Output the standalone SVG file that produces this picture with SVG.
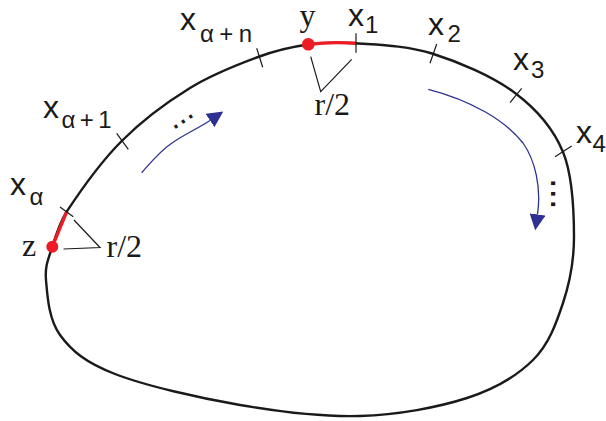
<svg xmlns="http://www.w3.org/2000/svg" width="606" height="421" viewBox="0 0 606 421">
<style>
.curve{fill:none;stroke:#1a1a1a;stroke-width:2.4}
.red{fill:none;stroke:#ed1c24;stroke-width:3.4}
.dot{fill:#ed1c24}
.tick{fill:none;stroke:#1a1a1a;stroke-width:1.2}
.flow{fill:none;stroke:#2e3192;stroke-width:1.3}
.sans{font-family:"Liberation Sans",Arial,sans-serif;fill:#1a1a1a}
.serif{font-family:"Liberation Serif","Times New Roman",serif;font-size:32px;fill:#1a1a1a}
.main{font-size:32px}
.sub{font-size:24px}
</style>
<defs>
<marker id="ah" viewBox="0 0 16 16" markerUnits="userSpaceOnUse" markerWidth="16" markerHeight="16" refX="0" refY="8" orient="auto">
<path d="M0,0 L16,8 L0,16 Z" fill="#2e3192"/>
</marker>
</defs>
<g id="curve">
<path class="curve" d="M52.3,246.7 C55.75,235.3 60.9,220.5 66.7,211.7 C78.27,194.08 101.15,161.62 121.7,141 C142.25,120.38 167.28,102 190,88 C212.72,74 238.33,64.25 258,57 C277.67,49.75 291.67,46.78 308,44.5 C324.33,42.22 335.33,41.8 356,43.3 C376.67,44.8 405.5,45.22 432,53.5 C458.5,61.78 493.17,76.58 515,93 C536.83,109.42 553.17,128 563,152 C572.83,176 574,211.83 574,237 C574,262.17 569.83,282.5 563,303 C556.17,323.5 549,344.17 533,360 C517,375.83 495.83,388.67 467,398 C438.170,407.33 397.83,414.83 360,416 C322.17,417.17 280.83,412 240,405 C199.17,398 145,385.67 115,374 C85,362.33 71.5,350.67 60,335 C48.5,319.33 47.28,294.72 46,280 C44.72,265.28 48.85,258.08 52.3,246.7 Z"/>
<path class="red" d="M66.7,211.7 L52.3,246.7"/>
<path class="red" d="M308,44.5 C324.33,42.22 335.33,41.8 356,43.3"/>
</g>
<g id="ticks">
<line class="tick" x1="60" y1="207" x2="73.3" y2="216.7"/>
<line class="tick" x1="116.7" y1="133.3" x2="128.3" y2="149.3"/>
<line class="tick" x1="256.7" y1="48.3" x2="262.7" y2="67.3"/>
<line class="tick" x1="356" y1="33.3" x2="356" y2="52.7"/>
<line class="tick" x1="430" y1="63.3" x2="436.7" y2="44"/>
<line class="tick" x1="510" y1="102.7" x2="521.7" y2="88.3"/>
<line class="tick" x1="555" y1="156.7" x2="571.7" y2="146"/>
</g>
<g id="node-z">
<circle class="dot" cx="52.3" cy="246.7" r="6"/>
<text class="serif" x="22" y="255.5">z</text>
<polyline class="tick" points="74,220 100,247.5 63.5,249"/>
<text class="serif" x="106.5" y="256.5">r/2</text>
</g>
<g id="node-y">
<circle class="dot" cx="308.3" cy="44.3" r="6.3"/>
<text class="serif" x="299.5" y="26">y</text>
<polyline class="tick" points="310.7,56.7 320.7,91.7 351.7,59.3"/>
<text class="serif" x="314.5" y="114.5">r/2</text>
</g>
<g id="label-xa"><text class="sans main" x="10" y="195">x</text><text class="sans sub" x="29.5" y="205">α</text></g>
<g id="label-xa1"><text class="sans main" x="43" y="118">x</text><text class="sans sub" x="61.5" y="128.3" textLength="50">α+1</text></g>
<g id="label-xan"><text class="sans main" x="180" y="30">x</text><text class="sans sub" x="200" y="41.7" textLength="52">α+n</text></g>
<g id="label-x1"><text class="sans main" x="348" y="26">x</text><text class="sans sub" x="365" y="33.3">1</text></g>
<g id="label-x2"><text class="sans main" x="428" y="35">x</text><text class="sans sub" x="447.5" y="41.7">2</text></g>
<g id="label-x3"><text class="sans main" x="513" y="70">x</text><text class="sans sub" x="531" y="78">3</text></g>
<g id="label-x4"><text class="sans main" x="576" y="143">x</text><text class="sans sub" x="592.5" y="151.7">4</text></g>
<g id="connectors">
<path class="flow" marker-end="url(#ah)" d="M141.7,172.7 C152,161 160,151 172,143 C183,135 198.3,128.3 210,120.5"/>
<path class="flow" marker-end="url(#ah)" d="M428.3,89.3 C470,100 505,120 523,143 C535,160 541.5,187 537.5,214.4"/>
</g>
<g id="ellipses">
<text class="sans" font-size="32" transform="translate(173.2,130.5) rotate(-34)">...</text>
<text class="sans" font-size="38" transform="translate(550.7,178) rotate(90)">...</text>
</g>
</svg>
